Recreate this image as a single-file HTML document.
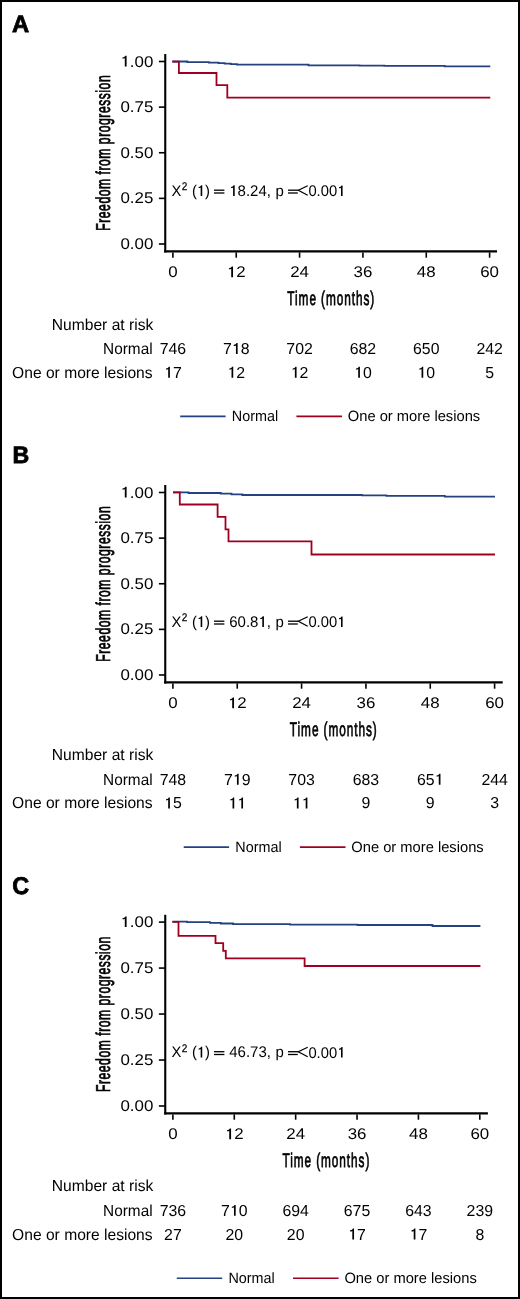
<!DOCTYPE html>
<html><head><meta charset="utf-8">
<style>
html,body{margin:0;padding:0;background:#fff;}
body{width:520px;height:1299px;overflow:hidden;}
svg{display:block;will-change:transform;}
text{font-family:"Liberation Sans", sans-serif;fill:#000;text-rendering:geometricPrecision;}
.let{font-weight:bold;fill:#000;stroke:#000;stroke-width:0.8px;}
.ax{stroke:#000;stroke-width:2.1;}
.tk{stroke:#000;stroke-width:1.6;}
.tl{font-size:15.5px;}
.tt{fill:#000;stroke:#000;stroke-width:0.75px;}
.chi{font-size:15.4px;}
.sup{font-size:11.2px;stroke:#000;stroke-width:0.25px;}
.eq{fill:#000;}
.lt2{fill:none;stroke:#000;stroke-width:1.25;}
.tb{font-size:15.9px;}
.tn{font-size:15.85px;}
.lt{font-size:15px;}
.cv{fill:none;stroke-width:1.8;stroke-linejoin:miter;stroke-linecap:butt;}
.lg{stroke-width:1.6;}
</style></head><body>
<svg width="520" height="1299" viewBox="0 0 520 1299">
<rect x="1" y="1" width="518" height="1297" fill="#fff" stroke="#000" stroke-width="2"/>
<text x="12" y="32.3" class="let" font-size="23.8">A</text>
<line x1="165.25" y1="54" x2="165.25" y2="252.5" class="ax"/>
<line x1="164.2" y1="251.4" x2="497" y2="251.4" class="ax"/>
<line x1="158.9" y1="244" x2="165" y2="244" class="tk"/>
<text transform="translate(153.3 249) scale(1.0900 1)" class="tl" text-anchor="end">0.00</text>
<line x1="158.9" y1="198.38" x2="165" y2="198.38" class="tk"/>
<text transform="translate(153.3 203.38) scale(1.0900 1)" class="tl" text-anchor="end">0.25</text>
<line x1="158.9" y1="152.75" x2="165" y2="152.75" class="tk"/>
<text transform="translate(153.3 157.75) scale(1.0900 1)" class="tl" text-anchor="end">0.50</text>
<line x1="158.9" y1="107.12" x2="165" y2="107.12" class="tk"/>
<text transform="translate(153.3 112.12) scale(1.0900 1)" class="tl" text-anchor="end">0.75</text>
<line x1="158.9" y1="61.5" x2="165" y2="61.5" class="tk"/>
<g transform="translate(153.3 66.5) scale(1.0900 1)"><text class="tl" text-anchor="end"> .00</text><path d="M530 0L750 0L750 1409L600 1409C575 1300 460 1200 250 1180L250 1035C400 1040 485 1070 530 1110Z" transform="translate(-30.167 0) scale(0.007568 -0.007568)"/></g>
<line x1="172.9" y1="252.4" x2="172.9" y2="257.7" class="tk"/>
<text transform="translate(172.9 277.2) scale(1.0900 1)" class="tl" text-anchor="middle">0</text>
<line x1="236.24" y1="252.4" x2="236.24" y2="257.7" class="tk"/>
<g transform="translate(236.24 277.2) scale(1.0900 1)"><text class="tl" text-anchor="middle"> 2</text><path d="M530 0L750 0L750 1409L600 1409C575 1300 460 1200 250 1180L250 1035C400 1040 485 1070 530 1110Z" transform="translate(-8.620 0) scale(0.007568 -0.007568)"/></g>
<line x1="299.58" y1="252.4" x2="299.58" y2="257.7" class="tk"/>
<text transform="translate(299.58 277.2) scale(1.0900 1)" class="tl" text-anchor="middle">24</text>
<line x1="362.92" y1="252.4" x2="362.92" y2="257.7" class="tk"/>
<text transform="translate(362.92 277.2) scale(1.0900 1)" class="tl" text-anchor="middle">36</text>
<line x1="426.26" y1="252.4" x2="426.26" y2="257.7" class="tk"/>
<text transform="translate(426.26 277.2) scale(1.0900 1)" class="tl" text-anchor="middle">48</text>
<line x1="489.6" y1="252.4" x2="489.6" y2="257.7" class="tk"/>
<text transform="translate(489.6 277.2) scale(1.0900 1)" class="tl" text-anchor="middle">60</text>
<text class="tt" transform="translate(110 152.75) rotate(-90) scale(0.605 1)" text-anchor="middle" font-size="20" letter-spacing="0.917">Freedom from progression</text>
<text class="tt" transform="translate(331.25 304.7) scale(0.601 1)" text-anchor="middle" font-size="19.7" letter-spacing="1.53">Time (months)</text>
<text transform="translate(171.5 195.9) scale(0.9550 1)" class="chi">X</text>
<text transform="translate(181.8 190) scale(0.9000 1)" class="sup">2</text>
<g transform="translate(191.9 195.9) scale(0.9600 1)"><text class="chi">( )</text><path d="M530 0L750 0L750 1409L600 1409C575 1300 460 1200 250 1180L250 1035C400 1040 485 1070 530 1110Z" transform="translate(5.128 0) scale(0.007520 -0.007520)"/></g>
<rect x="214" y="189.55" width="10.4" height="1.3" class="eq"/>
<rect x="214" y="192.35" width="10.4" height="1.3" class="eq"/>
<g transform="translate(229.2 195.9) scale(0.9750 1)"><text class="chi"> 8.24,</text><path d="M530 0L750 0L750 1409L600 1409C575 1300 460 1200 250 1180L250 1035C400 1040 485 1070 530 1110Z" transform="translate(0.000 0) scale(0.007520 -0.007520)"/></g>
<text transform="translate(275.4 195.9) scale(0.9750 1)" class="chi">p</text>
<rect x="288" y="189.55" width="10.3" height="1.3" class="eq"/>
<rect x="288" y="192.35" width="9.8" height="1.3" class="eq"/>
<path d="M307.7 185.7 L298.3 190.3 L307.7 195.2" class="lt2"/>
<g transform="translate(308.4 196.1) scale(0.9600 1)"><text class="chi">0.00 </text><path d="M530 0L750 0L750 1409L600 1409C575 1300 460 1200 250 1180L250 1035C400 1040 485 1070 530 1110Z" transform="translate(29.973 0) scale(0.007520 -0.007520)"/></g>
<path d="M172.3 61.5 L187.4 61.5 L187.4 62.1 L208.9 62.1 L208.9 62.6 L218.5 62.6 L218.5 63.2 L224.6 63.2 L224.6 63.7 L230.8 63.7 L230.8 64.2 L237 64.2 L237 64.7 L308.5 64.7 L308.5 65.3 L359.5 65.3 L359.5 65.6 L384.3 65.6 L384.3 65.9 L444.7 65.9 L444.7 66.4 L490.3 66.4" class="cv" stroke="#23427f"/>
<path d="M172.3 61.6 L178.9 61.6 L178.9 73 L216.5 73 L216.5 85.2 L227.3 85.2 L227.3 97.7 L490.3 97.7" class="cv" stroke="#a0001f"/>
<text transform="translate(51.8 329.6) scale(0.9820 1)" class="tb">Number at risk</text>
<text transform="translate(152.6 354) scale(0.9670 1)" class="tb" text-anchor="end">Normal</text>
<text transform="translate(152.6 377.7) scale(0.9820 1)" class="tb" text-anchor="end">One or more lesions</text>
<text x="172.9" y="354" class="tn" text-anchor="middle">746</text>
<g transform="translate(172.9 377.7) scale(1.0000 1)"><text class="tn" text-anchor="middle"> 7</text><path d="M530 0L750 0L750 1409L600 1409C575 1300 460 1200 250 1180L250 1035C400 1040 485 1070 530 1110Z" transform="translate(-8.815 0) scale(0.007739 -0.007739)"/></g>
<g transform="translate(236.24 354) scale(1.0000 1)"><text class="tn" text-anchor="middle">7 8</text><path d="M530 0L750 0L750 1409L600 1409C575 1300 460 1200 250 1180L250 1035C400 1040 485 1070 530 1110Z" transform="translate(-4.408 0) scale(0.007739 -0.007739)"/></g>
<g transform="translate(236.24 377.7) scale(1.0000 1)"><text class="tn" text-anchor="middle"> 2</text><path d="M530 0L750 0L750 1409L600 1409C575 1300 460 1200 250 1180L250 1035C400 1040 485 1070 530 1110Z" transform="translate(-8.815 0) scale(0.007739 -0.007739)"/></g>
<text x="299.58" y="354" class="tn" text-anchor="middle">702</text>
<g transform="translate(299.58 377.7) scale(1.0000 1)"><text class="tn" text-anchor="middle"> 2</text><path d="M530 0L750 0L750 1409L600 1409C575 1300 460 1200 250 1180L250 1035C400 1040 485 1070 530 1110Z" transform="translate(-8.815 0) scale(0.007739 -0.007739)"/></g>
<text x="362.92" y="354" class="tn" text-anchor="middle">682</text>
<g transform="translate(362.92 377.7) scale(1.0000 1)"><text class="tn" text-anchor="middle"> 0</text><path d="M530 0L750 0L750 1409L600 1409C575 1300 460 1200 250 1180L250 1035C400 1040 485 1070 530 1110Z" transform="translate(-8.815 0) scale(0.007739 -0.007739)"/></g>
<text x="426.26" y="354" class="tn" text-anchor="middle">650</text>
<g transform="translate(426.26 377.7) scale(1.0000 1)"><text class="tn" text-anchor="middle"> 0</text><path d="M530 0L750 0L750 1409L600 1409C575 1300 460 1200 250 1180L250 1035C400 1040 485 1070 530 1110Z" transform="translate(-8.815 0) scale(0.007739 -0.007739)"/></g>
<text x="489.6" y="354" class="tn" text-anchor="middle">242</text>
<text x="489.6" y="377.7" class="tn" text-anchor="middle">5</text>
<line x1="180.2" y1="416.4" x2="225.6" y2="416.4" stroke="#23427f" class="lg"/>
<text transform="translate(231.8 420.9) scale(0.9580 1)" class="lt">Normal</text>
<line x1="296.4" y1="416.4" x2="342" y2="416.4" stroke="#a0001f" class="lg"/>
<text transform="translate(347.8 420.9) scale(0.9800 1)" class="lt">One or more lesions</text>
<text transform="translate(12.6 463.4) scale(0.9750 1)" class="let" font-size="23.8">B</text>
<line x1="165.25" y1="485" x2="165.25" y2="683.5" class="ax"/>
<line x1="164.2" y1="682.4" x2="502.7" y2="682.4" class="ax"/>
<line x1="158.9" y1="675" x2="165" y2="675" class="tk"/>
<text transform="translate(153.3 680) scale(1.0900 1)" class="tl" text-anchor="end">0.00</text>
<line x1="158.9" y1="629.38" x2="165" y2="629.38" class="tk"/>
<text transform="translate(153.3 634.38) scale(1.0900 1)" class="tl" text-anchor="end">0.25</text>
<line x1="158.9" y1="583.75" x2="165" y2="583.75" class="tk"/>
<text transform="translate(153.3 588.75) scale(1.0900 1)" class="tl" text-anchor="end">0.50</text>
<line x1="158.9" y1="538.12" x2="165" y2="538.12" class="tk"/>
<text transform="translate(153.3 543.12) scale(1.0900 1)" class="tl" text-anchor="end">0.75</text>
<line x1="158.9" y1="492.5" x2="165" y2="492.5" class="tk"/>
<g transform="translate(153.3 497.5) scale(1.0900 1)"><text class="tl" text-anchor="end"> .00</text><path d="M530 0L750 0L750 1409L600 1409C575 1300 460 1200 250 1180L250 1035C400 1040 485 1070 530 1110Z" transform="translate(-30.167 0) scale(0.007568 -0.007568)"/></g>
<line x1="172.9" y1="683.4" x2="172.9" y2="688.7" class="tk"/>
<text transform="translate(172.9 708.2) scale(1.0900 1)" class="tl" text-anchor="middle">0</text>
<line x1="237.24" y1="683.4" x2="237.24" y2="688.7" class="tk"/>
<g transform="translate(237.24 708.2) scale(1.0900 1)"><text class="tl" text-anchor="middle"> 2</text><path d="M530 0L750 0L750 1409L600 1409C575 1300 460 1200 250 1180L250 1035C400 1040 485 1070 530 1110Z" transform="translate(-8.620 0) scale(0.007568 -0.007568)"/></g>
<line x1="301.58" y1="683.4" x2="301.58" y2="688.7" class="tk"/>
<text transform="translate(301.58 708.2) scale(1.0900 1)" class="tl" text-anchor="middle">24</text>
<line x1="365.92" y1="683.4" x2="365.92" y2="688.7" class="tk"/>
<text transform="translate(365.92 708.2) scale(1.0900 1)" class="tl" text-anchor="middle">36</text>
<line x1="430.26" y1="683.4" x2="430.26" y2="688.7" class="tk"/>
<text transform="translate(430.26 708.2) scale(1.0900 1)" class="tl" text-anchor="middle">48</text>
<line x1="494.6" y1="683.4" x2="494.6" y2="688.7" class="tk"/>
<text transform="translate(494.6 708.2) scale(1.0900 1)" class="tl" text-anchor="middle">60</text>
<text class="tt" transform="translate(110 583.75) rotate(-90) scale(0.605 1)" text-anchor="middle" font-size="20" letter-spacing="0.917">Freedom from progression</text>
<text class="tt" transform="translate(333.75 736) scale(0.601 1)" text-anchor="middle" font-size="19.7" letter-spacing="1.53">Time (months)</text>
<text transform="translate(171.5 626.9) scale(0.9550 1)" class="chi">X</text>
<text transform="translate(181.8 621) scale(0.9000 1)" class="sup">2</text>
<g transform="translate(191.9 626.9) scale(0.9600 1)"><text class="chi">( )</text><path d="M530 0L750 0L750 1409L600 1409C575 1300 460 1200 250 1180L250 1035C400 1040 485 1070 530 1110Z" transform="translate(5.128 0) scale(0.007520 -0.007520)"/></g>
<rect x="214" y="620.55" width="10.4" height="1.3" class="eq"/>
<rect x="214" y="623.35" width="10.4" height="1.3" class="eq"/>
<g transform="translate(229.2 626.9) scale(0.9750 1)"><text class="chi">60.8 ,</text><path d="M530 0L750 0L750 1409L600 1409C575 1300 460 1200 250 1180L250 1035C400 1040 485 1070 530 1110Z" transform="translate(29.973 0) scale(0.007520 -0.007520)"/></g>
<text transform="translate(275.4 626.9) scale(0.9750 1)" class="chi">p</text>
<rect x="288" y="620.55" width="10.3" height="1.3" class="eq"/>
<rect x="288" y="623.35" width="9.8" height="1.3" class="eq"/>
<path d="M307.7 616.7 L298.3 621.3 L307.7 626.2" class="lt2"/>
<g transform="translate(308.4 627.1) scale(0.9600 1)"><text class="chi">0.00 </text><path d="M530 0L750 0L750 1409L600 1409C575 1300 460 1200 250 1180L250 1035C400 1040 485 1070 530 1110Z" transform="translate(29.973 0) scale(0.007520 -0.007520)"/></g>
<path d="M173 492.4 L188.5 492.4 L188.5 493 L220.8 493 L220.8 493.7 L231.5 493.7 L231.5 494.4 L242.3 494.4 L242.3 495 L362 495 L362 495.4 L386.4 495.4 L386.4 495.9 L444.8 495.9 L444.8 496.7 L495 496.7" class="cv" stroke="#23427f"/>
<path d="M173 492.4 L179.8 492.4 L179.8 504.5 L217.6 504.5 L217.6 516.8 L225.5 516.8 L225.5 529.3 L228.5 529.3 L228.5 541.4 L311.5 541.4 L311.5 554.5 L495 554.5" class="cv" stroke="#a0001f"/>
<text transform="translate(51.8 760.3) scale(0.9820 1)" class="tb">Number at risk</text>
<text transform="translate(152.6 784.7) scale(0.9670 1)" class="tb" text-anchor="end">Normal</text>
<text transform="translate(152.6 808.4) scale(0.9820 1)" class="tb" text-anchor="end">One or more lesions</text>
<text x="172.9" y="784.7" class="tn" text-anchor="middle">748</text>
<g transform="translate(172.9 808.4) scale(1.0000 1)"><text class="tn" text-anchor="middle"> 5</text><path d="M530 0L750 0L750 1409L600 1409C575 1300 460 1200 250 1180L250 1035C400 1040 485 1070 530 1110Z" transform="translate(-8.815 0) scale(0.007739 -0.007739)"/></g>
<g transform="translate(237.24 784.7) scale(1.0000 1)"><text class="tn" text-anchor="middle">7 9</text><path d="M530 0L750 0L750 1409L600 1409C575 1300 460 1200 250 1180L250 1035C400 1040 485 1070 530 1110Z" transform="translate(-4.408 0) scale(0.007739 -0.007739)"/></g>
<g transform="translate(237.24 808.4) scale(1.0000 1)"><text class="tn" text-anchor="middle">  </text><path d="M530 0L750 0L750 1409L600 1409C575 1300 460 1200 250 1180L250 1035C400 1040 485 1070 530 1110Z" transform="translate(-8.815 0) scale(0.007739 -0.007739)"/><path d="M530 0L750 0L750 1409L600 1409C575 1300 460 1200 250 1180L250 1035C400 1040 485 1070 530 1110Z" transform="translate(0.000 0) scale(0.007739 -0.007739)"/></g>
<text x="301.58" y="784.7" class="tn" text-anchor="middle">703</text>
<g transform="translate(301.58 808.4) scale(1.0000 1)"><text class="tn" text-anchor="middle">  </text><path d="M530 0L750 0L750 1409L600 1409C575 1300 460 1200 250 1180L250 1035C400 1040 485 1070 530 1110Z" transform="translate(-8.815 0) scale(0.007739 -0.007739)"/><path d="M530 0L750 0L750 1409L600 1409C575 1300 460 1200 250 1180L250 1035C400 1040 485 1070 530 1110Z" transform="translate(0.000 0) scale(0.007739 -0.007739)"/></g>
<text x="365.92" y="784.7" class="tn" text-anchor="middle">683</text>
<text x="365.92" y="808.4" class="tn" text-anchor="middle">9</text>
<g transform="translate(430.26 784.7) scale(1.0000 1)"><text class="tn" text-anchor="middle">65 </text><path d="M530 0L750 0L750 1409L600 1409C575 1300 460 1200 250 1180L250 1035C400 1040 485 1070 530 1110Z" transform="translate(4.408 0) scale(0.007739 -0.007739)"/></g>
<text x="430.26" y="808.4" class="tn" text-anchor="middle">9</text>
<text x="494.6" y="784.7" class="tn" text-anchor="middle">244</text>
<text x="494.6" y="808.4" class="tn" text-anchor="middle">3</text>
<line x1="183.7" y1="847.1" x2="229.1" y2="847.1" stroke="#23427f" class="lg"/>
<text transform="translate(235.3 851.6) scale(0.9580 1)" class="lt">Normal</text>
<line x1="299.9" y1="847.1" x2="345.5" y2="847.1" stroke="#a0001f" class="lg"/>
<text transform="translate(351.3 851.6) scale(0.9800 1)" class="lt">One or more lesions</text>
<text transform="translate(12.3 894.1) scale(0.9650 1)" class="let" font-size="24.3">C</text>
<line x1="165.25" y1="914.8" x2="165.25" y2="1114.5" class="ax"/>
<line x1="164.2" y1="1113.4" x2="487.9" y2="1113.4" class="ax"/>
<line x1="158.9" y1="1106" x2="165" y2="1106" class="tk"/>
<text transform="translate(153.3 1111) scale(1.0900 1)" class="tl" text-anchor="end">0.00</text>
<line x1="158.9" y1="1060.03" x2="165" y2="1060.03" class="tk"/>
<text transform="translate(153.3 1065.03) scale(1.0900 1)" class="tl" text-anchor="end">0.25</text>
<line x1="158.9" y1="1014.05" x2="165" y2="1014.05" class="tk"/>
<text transform="translate(153.3 1019.05) scale(1.0900 1)" class="tl" text-anchor="end">0.50</text>
<line x1="158.9" y1="968.08" x2="165" y2="968.08" class="tk"/>
<text transform="translate(153.3 973.08) scale(1.0900 1)" class="tl" text-anchor="end">0.75</text>
<line x1="158.9" y1="922.1" x2="165" y2="922.1" class="tk"/>
<g transform="translate(153.3 927.1) scale(1.0900 1)"><text class="tl" text-anchor="end"> .00</text><path d="M530 0L750 0L750 1409L600 1409C575 1300 460 1200 250 1180L250 1035C400 1040 485 1070 530 1110Z" transform="translate(-30.167 0) scale(0.007568 -0.007568)"/></g>
<line x1="172.9" y1="1114.4" x2="172.9" y2="1119.7" class="tk"/>
<text transform="translate(172.9 1139.2) scale(1.0900 1)" class="tl" text-anchor="middle">0</text>
<line x1="234.28" y1="1114.4" x2="234.28" y2="1119.7" class="tk"/>
<g transform="translate(234.28 1139.2) scale(1.0900 1)"><text class="tl" text-anchor="middle"> 2</text><path d="M530 0L750 0L750 1409L600 1409C575 1300 460 1200 250 1180L250 1035C400 1040 485 1070 530 1110Z" transform="translate(-8.620 0) scale(0.007568 -0.007568)"/></g>
<line x1="295.66" y1="1114.4" x2="295.66" y2="1119.7" class="tk"/>
<text transform="translate(295.66 1139.2) scale(1.0900 1)" class="tl" text-anchor="middle">24</text>
<line x1="357.04" y1="1114.4" x2="357.04" y2="1119.7" class="tk"/>
<text transform="translate(357.04 1139.2) scale(1.0900 1)" class="tl" text-anchor="middle">36</text>
<line x1="418.42" y1="1114.4" x2="418.42" y2="1119.7" class="tk"/>
<text transform="translate(418.42 1139.2) scale(1.0900 1)" class="tl" text-anchor="middle">48</text>
<line x1="479.8" y1="1114.4" x2="479.8" y2="1119.7" class="tk"/>
<text transform="translate(479.8 1139.2) scale(1.0900 1)" class="tl" text-anchor="middle">60</text>
<text class="tt" transform="translate(110 1014.05) rotate(-90) scale(0.605 1)" text-anchor="middle" font-size="20" letter-spacing="0.917">Freedom from progression</text>
<text class="tt" transform="translate(326.35 1167) scale(0.601 1)" text-anchor="middle" font-size="19.7" letter-spacing="1.53">Time (months)</text>
<text transform="translate(171.5 1057.4) scale(0.9550 1)" class="chi">X</text>
<text transform="translate(181.8 1051.5) scale(0.9000 1)" class="sup">2</text>
<g transform="translate(191.9 1057.4) scale(0.9600 1)"><text class="chi">( )</text><path d="M530 0L750 0L750 1409L600 1409C575 1300 460 1200 250 1180L250 1035C400 1040 485 1070 530 1110Z" transform="translate(5.128 0) scale(0.007520 -0.007520)"/></g>
<rect x="214" y="1051.05" width="10.4" height="1.3" class="eq"/>
<rect x="214" y="1053.85" width="10.4" height="1.3" class="eq"/>
<text transform="translate(229.2 1057.4) scale(0.9750 1)" class="chi">46.73,</text>
<text transform="translate(275.4 1057.4) scale(0.9750 1)" class="chi">p</text>
<rect x="288" y="1051.05" width="10.3" height="1.3" class="eq"/>
<rect x="288" y="1053.85" width="9.8" height="1.3" class="eq"/>
<path d="M307.7 1047.2 L298.3 1051.8 L307.7 1056.7" class="lt2"/>
<g transform="translate(308.4 1057.6) scale(0.9600 1)"><text class="chi">0.00 </text><path d="M530 0L750 0L750 1409L600 1409C575 1300 460 1200 250 1180L250 1035C400 1040 485 1070 530 1110Z" transform="translate(29.973 0) scale(0.007520 -0.007520)"/></g>
<path d="M172.4 921.6 L187 921.6 L187 922.2 L210 922.2 L210 922.8 L220.8 922.8 L220.8 923.5 L233 923.5 L233 924.2 L290 924.2 L290 924.6 L357.5 924.6 L357.5 925 L432.5 925 L432.5 926 L480.4 926" class="cv" stroke="#23427f"/>
<path d="M172.4 921.9 L178.5 921.9 L178.5 935.8 L215.5 935.8 L215.5 943.2 L223.2 943.2 L223.2 950.9 L225.8 950.9 L225.8 958.3 L304.6 958.3 L304.6 966 L480.4 966" class="cv" stroke="#a0001f"/>
<text transform="translate(51.8 1191.4) scale(0.9820 1)" class="tb">Number at risk</text>
<text transform="translate(152.6 1215.8) scale(0.9670 1)" class="tb" text-anchor="end">Normal</text>
<text transform="translate(152.6 1239.5) scale(0.9820 1)" class="tb" text-anchor="end">One or more lesions</text>
<text x="172.9" y="1215.8" class="tn" text-anchor="middle">736</text>
<text x="172.9" y="1239.5" class="tn" text-anchor="middle">27</text>
<g transform="translate(234.28 1215.8) scale(1.0000 1)"><text class="tn" text-anchor="middle">7 0</text><path d="M530 0L750 0L750 1409L600 1409C575 1300 460 1200 250 1180L250 1035C400 1040 485 1070 530 1110Z" transform="translate(-4.408 0) scale(0.007739 -0.007739)"/></g>
<text x="234.28" y="1239.5" class="tn" text-anchor="middle">20</text>
<text x="295.66" y="1215.8" class="tn" text-anchor="middle">694</text>
<text x="295.66" y="1239.5" class="tn" text-anchor="middle">20</text>
<text x="357.04" y="1215.8" class="tn" text-anchor="middle">675</text>
<g transform="translate(357.04 1239.5) scale(1.0000 1)"><text class="tn" text-anchor="middle"> 7</text><path d="M530 0L750 0L750 1409L600 1409C575 1300 460 1200 250 1180L250 1035C400 1040 485 1070 530 1110Z" transform="translate(-8.815 0) scale(0.007739 -0.007739)"/></g>
<text x="418.42" y="1215.8" class="tn" text-anchor="middle">643</text>
<g transform="translate(418.42 1239.5) scale(1.0000 1)"><text class="tn" text-anchor="middle"> 7</text><path d="M530 0L750 0L750 1409L600 1409C575 1300 460 1200 250 1180L250 1035C400 1040 485 1070 530 1110Z" transform="translate(-8.815 0) scale(0.007739 -0.007739)"/></g>
<text x="479.8" y="1215.8" class="tn" text-anchor="middle">239</text>
<text x="479.8" y="1239.5" class="tn" text-anchor="middle">8</text>
<line x1="176.8" y1="1278.2" x2="222.2" y2="1278.2" stroke="#23427f" class="lg"/>
<text transform="translate(228.4 1282.7) scale(0.9580 1)" class="lt">Normal</text>
<line x1="293" y1="1278.2" x2="338.6" y2="1278.2" stroke="#a0001f" class="lg"/>
<text transform="translate(344.4 1282.7) scale(0.9800 1)" class="lt">One or more lesions</text>
</svg>
</body></html>
